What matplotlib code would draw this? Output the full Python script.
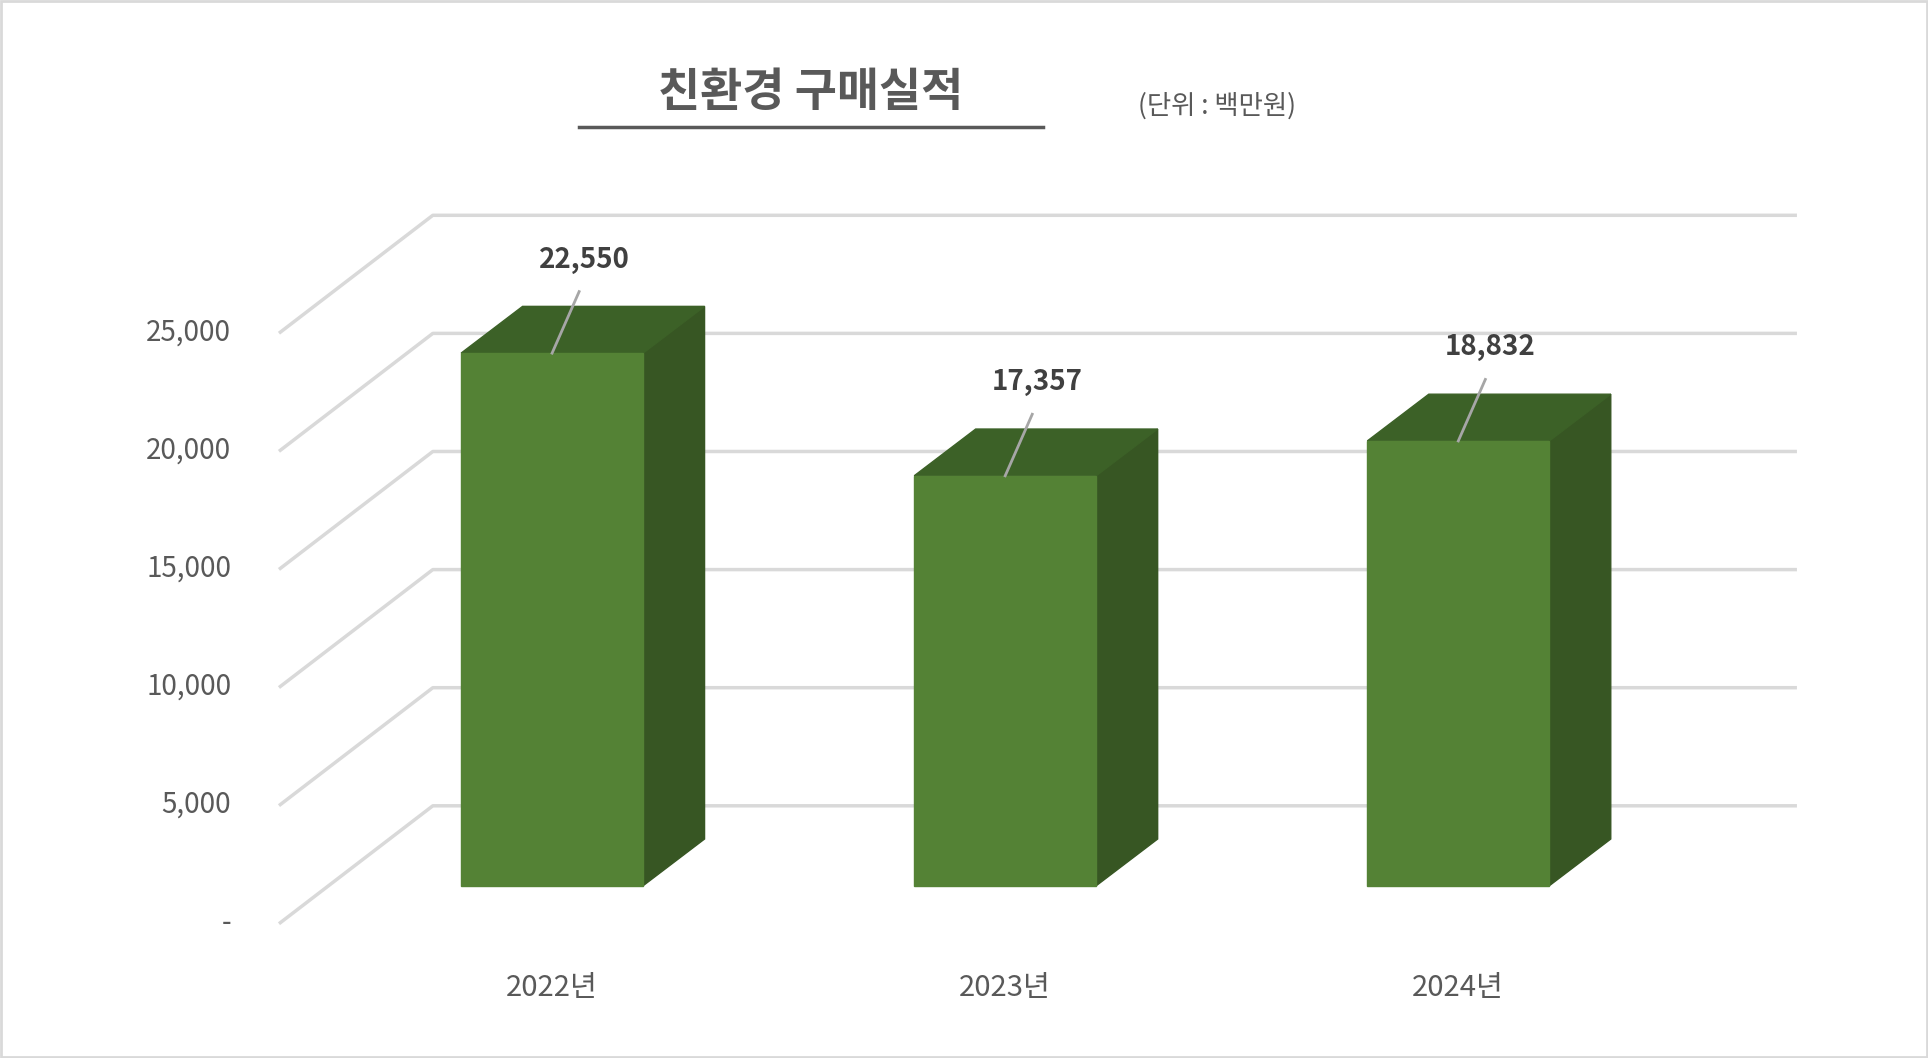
import matplotlib
matplotlib.use("Agg")
import matplotlib.pyplot as plt
from matplotlib.patches import Polygon, Rectangle

years = ["2022년", "2023년", "2024년"]
values = [22550, 17357, 18832]
ticks = [0, 5000, 10000, 15000, 20000, 25000]
tick_labels = ["-", "5,000", "10,000", "15,000", "20,000", "25,000"]

FONT = "Noto Sans CJK KR"
fig = plt.figure(figsize=(19.28, 10.58), dpi=100)
ax = fig.add_axes([0, 0, 1, 1])
# reference pixel frame 1568x860
PX = 368.5          # px per category
PY = 0.0192         # px per value unit
def cx(px): return (px - 449) / PX
def cy(py): return (750 - py) / PY
ax.set_xlim(cx(0), cx(1568))
ax.set_ylim(cy(860), cy(0))
ax.axis("off")

gdx, gdy = 124 / PX, 95 / PY       # wall depth
bdx, bdy = 50 / PX, 38 / PY        # bar depth
bx0, by0 = 30 / PX * 124 / 95 * 0 + 0, 30 / PY   # bar front offset
xl, xr = cx(228), cx(1460)
grid = "#D9D9D9"
for t, lab in zip(ticks, tick_labels):
    ax.plot([xl, xl + gdx, xr], [t, t + gdy, t + gdy], color=grid, lw=2.5, zorder=1)
    ax.text(cx(188), t, lab, ha="right", va="center", fontsize=20, color="#595959", family=FONT)

front, top, side = "#548235", "#3C6127", "#375623"
w = 148 / PX
for i, (yr, v) in enumerate(zip(years, values)):
    x0, x1 = i - w / 2, i + w / 2
    b, h = by0, by0 + v
    ax.add_patch(Polygon([(x1, b), (x1 + bdx, b + bdy), (x1 + bdx, h + bdy), (x1, h)], color=side, zorder=3))
    ax.add_patch(Polygon([(x0, h), (x1, h), (x1 + bdx, h + bdy), (x0 + bdx, h + bdy)], color=top, zorder=3))
    ax.add_patch(Rectangle((x0, b), w, v, color=front, zorder=4))
    ax.plot([i, i + 22 / PX], [h, h + 50 / PY], color="#A6A6A6", lw=2, zorder=5)
    ax.text(i + 26 / PX, h + 76 / PY, f"{v:,}", ha="center", va="center", fontsize=20,
            fontweight="bold", color="#404040", family=FONT, zorder=6)
    ax.text(i, cy(803), yr, ha="center", va="center", fontsize=21, color="#595959", family=FONT)

ax.text(cx(659), cy(76), "친환경 구매실적", ha="center", va="center", fontsize=33,
        fontweight="bold", color="#595959", family=FONT)
ax.plot([cx(471), cx(848)], [cy(103), cy(103)], color="#595959", lw=2.5)
ax.text(cx(990), cy(86), "(단위 : 백만원)", ha="center", va="center", fontsize=19,
        color="#595959", family=FONT)
ax.add_patch(Rectangle((cx(1), cy(859)), cx(1567) - cx(1), cy(1) - cy(859), fill=False,
                       edgecolor="#D9D9D9", lw=2))
fig.savefig("out.png", dpi=100, facecolor="white")
